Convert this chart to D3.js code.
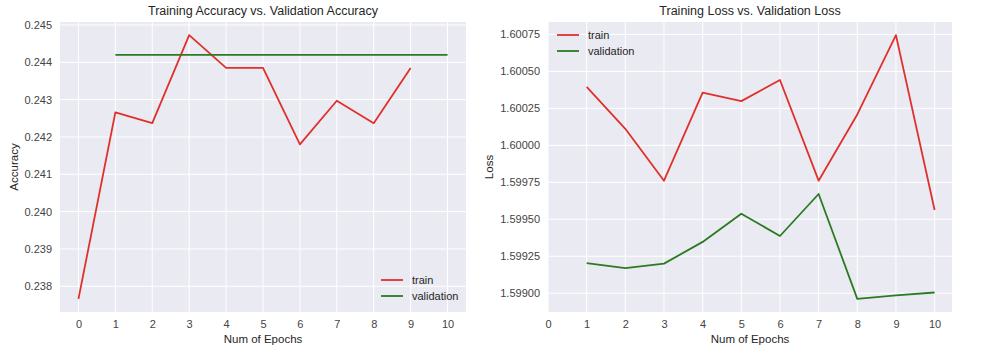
<!DOCTYPE html>
<html><head><meta charset="utf-8">
<script src="https://cdn.jsdelivr.net/npm/d3@7"></script>
<style>
body{margin:0;background:#fff;}
text{font-family:"Liberation Sans",Arial,sans-serif;fill:#262626;}
</style></head>
<body><svg id="c" width="1000" height="359"></svg>
<script>
const epochsTrainAcc = [0,1,2,3,4,5,6,7,8,9];
const trainAcc = [0.23766,0.24266,0.24237,0.24473,0.24385,0.24385,0.24180,0.24297,0.24237,0.24385];
const epochsValAcc = [1,2,3,4,5,6,7,8,9,10];
const valAcc = [0.24420,0.24420,0.24420,0.24420,0.24420,0.24420,0.24420,0.24420,0.24420,0.24420];
const epochsLoss = [1,2,3,4,5,6,7,8,9,10];
const trainLoss = [1.600396,1.600112,1.599761,1.600356,1.600299,1.600442,1.599761,1.600209,1.600745,1.599563];
const valLoss = [1.599204,1.599170,1.599200,1.599347,1.599538,1.599387,1.599671,1.598962,1.598985,1.599005];
const xTicks = [0,1,2,3,4,5,6,7,8,9,10];
const accTicks = [0.238,0.239,0.240,0.241,0.242,0.243,0.244,0.245];
const lossTicks = [1.59900,1.59925,1.59950,1.59975,1.60000,1.60025,1.60050,1.60075];
const seriesNames = ["train","validation"];
const RED = "#e0302b", GREEN = "#2b7b22";

const svg = d3.select("#c");

function panel(o){
  const g = svg.append("g");
  const x = d3.scaleLinear().domain(o.xDomain).range([o.left, o.right]);
  const y = d3.scaleLinear().domain(o.yDomain).range([o.bottom, o.top]);
  g.append("rect").attr("x",o.left).attr("y",o.top).attr("width",o.right-o.left).attr("height",o.bottom-o.top).attr("fill","#eaeaf2");
  g.append("g").selectAll("line").data(xTicks).join("line")
    .attr("x1",d=>x(d)).attr("x2",d=>x(d)).attr("y1",o.top).attr("y2",o.bottom)
    .attr("stroke","#fff").attr("stroke-width",1);
  g.append("g").selectAll("line").data(o.yTicks).join("line")
    .attr("y1",d=>y(d)).attr("y2",d=>y(d)).attr("x1",o.left).attr("x2",o.right)
    .attr("stroke","#fff").attr("stroke-width",1);
  const xa = g.append("g").attr("transform",`translate(0,${o.bottom})`)
    .call(d3.axisBottom(x).tickValues(xTicks).tickSize(0).tickPadding(8).tickFormat(d3.format("d")));
  xa.select(".domain").remove();
  xa.selectAll("text").attr("font-size",11).style("fill","#444");
  const ya = g.append("g").attr("transform",`translate(${o.left},0)`)
    .call(d3.axisLeft(y).tickValues(o.yTicks).tickSize(0).tickPadding(8).tickFormat(o.fmt));
  ya.select(".domain").remove();
  ya.selectAll("text").attr("font-size",11).style("fill","#444");
  const line = d3.line().x(d=>x(d[0])).y(d=>y(d[1]));
  o.series.forEach(s=>{
    g.append("path").datum(d3.zip(s.x,s.y)).attr("d",line)
      .attr("fill","none").attr("stroke",s.color).attr("stroke-width",1.8).attr("stroke-linejoin","round");
  });
  g.append("text").attr("x",(o.left+o.right)/2).attr("y",15).attr("text-anchor","middle").attr("font-size",12.5).text(o.title);
  g.append("text").attr("x",(o.left+o.right)/2).attr("y",343).attr("text-anchor","middle").attr("font-size",11.5).text("Num of Epochs");
  g.append("text").attr("transform",`translate(${o.ylabX},${(o.top+o.bottom)/2}) rotate(-90)`).attr("text-anchor","middle").attr("font-size",11.5).text(o.ylabel);
  const lg = g.append("g").attr("transform",`translate(${o.legX},${o.legY})`);
  o.series.forEach((s,i)=>{
    lg.append("line").attr("x1",0).attr("x2",22).attr("y1",i*16).attr("y2",i*16).attr("stroke",s.color).attr("stroke-width",1.8);
    lg.append("text").attr("x",31).attr("y",i*16+4).attr("font-size",11).text(seriesNames[i]);
  });
}

panel({
  left:60,right:466,top:22,bottom:312,
  xDomain:[-0.5,10.5], yDomain:[0.23731,0.24508],
  yTicks:accTicks, fmt:d3.format(".3f"),
  title:"Training Accuracy vs. Validation Accuracy", ylabel:"Accuracy", ylabX:18,
  series:[{x:epochsTrainAcc,y:trainAcc,color:RED},{x:epochsValAcc,y:valAcc,color:GREEN}],
  legX:381, legY:280
});
panel({
  left:548,right:952,top:22,bottom:312,
  xDomain:[0,10.45], yDomain:[1.598873,1.600834],
  yTicks:lossTicks, fmt:d3.format(".5f"),
  title:"Training Loss vs. Validation Loss", ylabel:"Loss", ylabX:493,
  series:[{x:epochsLoss,y:trainLoss,color:RED},{x:epochsLoss,y:valLoss,color:GREEN}],
  legX:557, legY:35
});
</script></body></html>
